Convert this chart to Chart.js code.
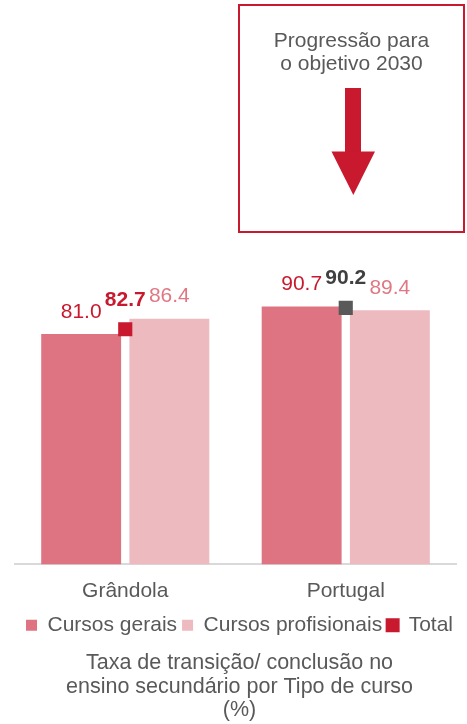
<!DOCTYPE html>
<html>
<head>
<meta charset="utf-8">
<script src="https://cdn.jsdelivr.net/npm/chart.js@4/dist/chart.umd.min.js"></script>
<style>
  html, body { margin: 0; padding: 0; background: #fff; }
  body { width: 467px; height: 724px; position: relative; overflow: hidden; font-family: "Liberation Sans", Arial, sans-serif; }
  #wrap { position: absolute; left: 0; top: 0; width: 467px; height: 724px; }
  #box { position: absolute; left: 238px; top: 4px; width: 227px; height: 229px; box-sizing: border-box; border: 2px solid #C8192E; }
  #boxText { position: absolute; left: 0; right: 0; top: 23px; text-align: center; color: #595959; font-size: 21px; line-height: 22.5px; }
  #arrow { position: absolute; left: 0; top: 0; }
</style>
</head>
<body>
<div id="wrap"><canvas id="c" width="467" height="724"></canvas></div>
<div id="box">
  <div id="boxText">Progressão para<br>o objetivo 2030</div>
  <svg id="arrow" width="225" height="225" viewBox="0 0 225 225">
    <rect x="105" y="82" width="16" height="66" fill="#C8192E"/>
    <polygon points="91.5,145.5 135,145.5 113.3,189" fill="#C8192E"/>
  </svg>
</div>
<script>
const categories = ['Grândola', 'Portugal'];
const cursosGerais = [81.0, 90.7];
const cursosProfissionais = [86.4, 89.4];
const totalValues = [82.7, 90.2];
const seriesNames = ['Cursos gerais', 'Cursos profisionais', 'Total'];
const titleLines = ['Taxa de transição/ conclusão no', 'ensino secundário por Tipo de curso', '(%)'];

const COL_GERAIS = '#DE7481';
const COL_PROF = '#EDBAC0';
const COL_TOTAL = '#C8192E';
const totalPointColors = ['#C8192E', '#595959'];
const totalLabelColors = ['#C8192E', '#404040'];
const FONT = '"Liberation Sans", Arial, sans-serif';

const labelPlugin = {
  id: 'valueLabels',
  afterDatasetsDraw(chart) {
    const ctx = chart.ctx;
    ctx.save();
    ctx.textAlign = 'center';
    ctx.textBaseline = 'middle';
    const cfg = [
      { ds: 0, color: () => '#C8192E', bold: false, off: 22 },
      { ds: 1, color: () => '#E07883', bold: false, off: 22 },
      { ds: 2, color: (i) => totalLabelColors[i], bold: true, off: 29.5 }
    ];
    cfg.forEach(c => {
      const meta = chart.getDatasetMeta(c.ds);
      const data = chart.data.datasets[c.ds].data;
      meta.data.forEach((el, i) => {
        ctx.font = (c.bold ? 'bold ' : '') + '21px ' + FONT;
        ctx.fillStyle = c.color(i);
        ctx.fillText(data[i].toFixed(1), el.x, el.y - c.off);
      });
    });
    ctx.restore();
  }
};

new Chart(document.getElementById('c'), {
  type: 'bar',
  data: {
    labels: categories,
    datasets: [
      { label: seriesNames[0], data: cursosGerais, backgroundColor: COL_GERAIS, order: 2,
        categoryPercentage: 0.8, barPercentage: 0.906 },
      { label: seriesNames[1], data: cursosProfissionais, backgroundColor: COL_PROF, order: 2,
        categoryPercentage: 0.8, barPercentage: 0.906 },
      { label: seriesNames[2], type: 'line', data: totalValues, showLine: false, order: 1,
        backgroundColor: COL_TOTAL, borderColor: COL_TOTAL,
        pointStyle: 'rect', pointRadius: 10, pointHoverRadius: 10, pointBorderWidth: 0,
        pointBackgroundColor: totalPointColors, pointBorderColor: totalPointColors }
    ]
  },
  options: {
    responsive: false,
    animation: false,
    events: [],
    layout: { padding: { left: 12, right: 0, top: 280, bottom: 2 } },
    scales: {
      y: {
        display: true, position: 'left', min: 0, max: 100,
        ticks: { display: false }, grid: { display: false, drawTicks: false }, border: { display: false },
        afterFit(s) { s.width = 3; }
      },
      y2: {
        display: true, position: 'right', min: 0, max: 100,
        ticks: { display: false }, grid: { display: false, drawTicks: false }, border: { display: false },
        afterFit(s) { s.width = 11; }
      },
      x: {
        grid: { display: false, drawTicks: false },
        border: { display: true, color: '#D9D9D9', width: 2 },
        ticks: { color: '#595959', font: { family: FONT, size: 21 }, padding: 14 },
        afterFit(s) { s.height -= 8; }
      }
    },
    plugins: {
      tooltip: { enabled: false },
      legend: {
        position: 'bottom',
        labels: { color: '#595959', font: { family: FONT, size: 21 }, boxWidth: 11, boxHeight: 11, padding: 5,
          sort: (a, b) => a.datasetIndex - b.datasetIndex }
      },
      title: {
        display: true,
        position: 'bottom',
        text: titleLines,
        color: '#595959',
        font: { family: FONT, size: 21.5, weight: 'normal', lineHeight: 1.09 },
        padding: { top: 6, bottom: 0 }
      }
    }
  },
  plugins: [labelPlugin]
});
</script>
</body>
</html>
